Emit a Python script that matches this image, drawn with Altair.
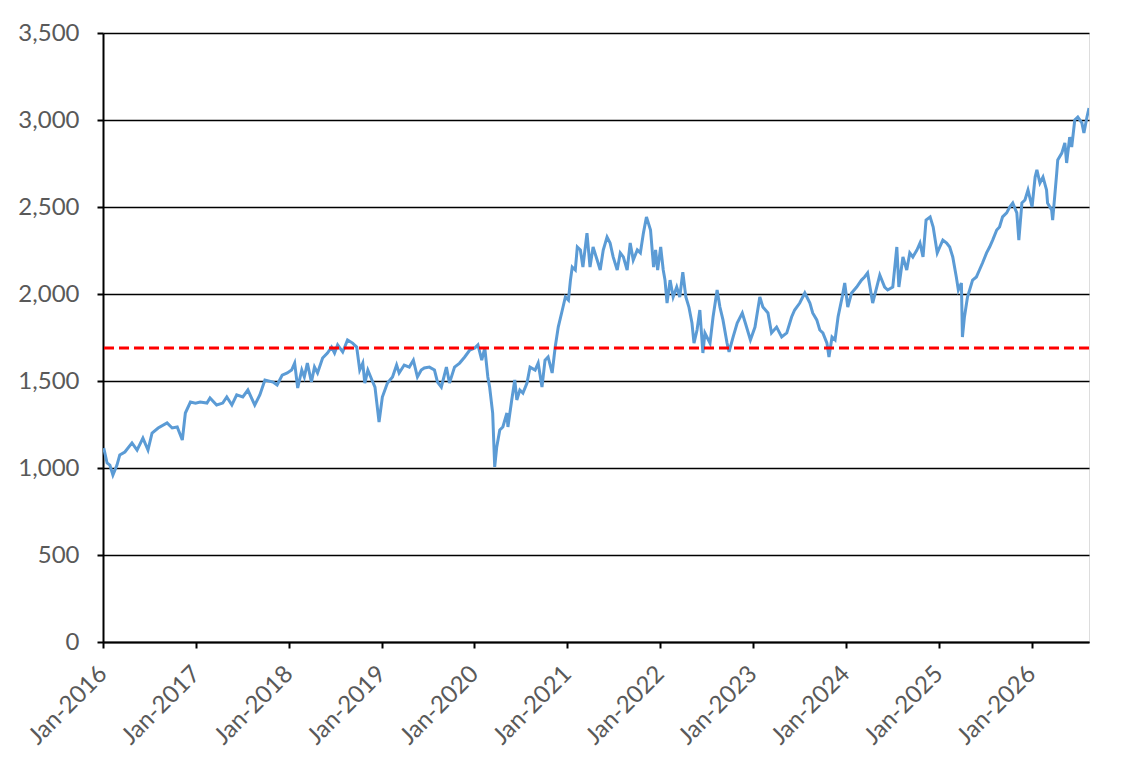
import altair as alt
import pandas as pd

dates = [
    "2016-01-04","2016-01-17","2016-01-28","2016-02-09","2016-02-25","2016-03-07","2016-03-27","2016-04-24",
    "2016-05-14","2016-06-06","2016-06-26","2016-07-12","2016-08-05","2016-09-09","2016-09-29","2016-10-19",
    "2016-11-08","2016-11-20","2016-12-10","2016-12-30",
    "2017-01-17","2017-02-13","2017-02-25","2017-03-23","2017-04-16","2017-05-02","2017-05-22","2017-06-10",
    "2017-07-04","2017-07-24","2017-08-20","2017-09-09","2017-09-29","2017-10-31","2017-11-16","2017-12-06",
    "2017-12-26",
    "2018-01-12","2018-01-24","2018-02-05","2018-02-21","2018-03-03","2018-03-15","2018-03-31","2018-04-12",
    "2018-04-24","2018-05-14","2018-06-02","2018-06-18","2018-06-30","2018-07-12","2018-08-01","2018-08-20",
    "2018-09-09","2018-09-25","2018-10-07","2018-10-19","2018-10-27","2018-11-08","2018-11-24","2018-12-06",
    "2018-12-22",
    "2019-01-04","2019-01-24","2019-02-13","2019-03-01","2019-03-11","2019-03-31","2019-04-20","2019-05-06",
    "2019-05-22","2019-06-06","2019-06-18","2019-07-08","2019-07-28","2019-08-09","2019-08-24","2019-09-13",
    "2019-09-25","2019-10-15","2019-11-04","2019-11-24","2019-12-14",
    "2020-01-03","2020-01-15","2020-01-30","2020-02-11","2020-02-23","2020-03-01","2020-03-13","2020-03-21",
    "2020-03-29","2020-04-10","2020-04-22","2020-05-08","2020-05-12","2020-05-27","2020-06-08","2020-06-16",
    "2020-06-28","2020-07-10","2020-07-26","2020-08-07","2020-08-27","2020-09-08","2020-09-23","2020-10-05",
    "2020-10-17","2020-11-02","2020-11-14","2020-11-26","2020-12-12","2020-12-24",
    "2021-01-05","2021-01-13","2021-01-20","2021-02-01","2021-02-09","2021-02-21","2021-03-03","2021-03-19",
    "2021-03-31","2021-04-12","2021-04-28","2021-05-10","2021-05-22","2021-06-06","2021-06-18","2021-06-30",
    "2021-07-16","2021-07-28","2021-08-09","2021-08-24","2021-09-05","2021-09-17","2021-10-03","2021-10-15",
    "2021-10-27","2021-11-08","2021-11-24","2021-12-06","2021-12-14","2021-12-22",
    "2022-01-03","2022-01-13","2022-01-20","2022-01-28","2022-02-09","2022-02-21","2022-03-07","2022-03-19",
    "2022-03-31","2022-04-12","2022-04-24","2022-05-06","2022-05-14","2022-05-26","2022-06-06","2022-06-18",
    "2022-06-26","2022-07-16","2022-07-28","2022-08-13","2022-08-24","2022-09-05","2022-09-21","2022-09-29",
    "2022-10-15","2022-10-31","2022-11-20","2022-12-02","2022-12-22",
    "2023-01-09","2023-01-28","2023-02-09","2023-03-01","2023-03-15","2023-04-04","2023-04-24","2023-05-14",
    "2023-06-02","2023-06-14","2023-07-04","2023-07-24","2023-08-13","2023-08-24","2023-09-09","2023-09-21",
    "2023-10-03","2023-10-19","2023-10-27","2023-11-08","2023-11-20","2023-12-02","2023-12-18","2023-12-28",
    "2024-01-09","2024-01-24","2024-02-13","2024-03-03","2024-03-15","2024-03-27","2024-04-16","2024-05-14",
    "2024-06-02","2024-06-14","2024-07-04","2024-07-20","2024-07-28","2024-08-13","2024-08-28","2024-09-09",
    "2024-09-21","2024-10-07","2024-10-19","2024-10-31","2024-11-12","2024-11-28","2024-12-10","2024-12-26",
    "2025-01-05","2025-01-17","2025-02-01","2025-02-13","2025-02-25","2025-03-11","2025-03-19","2025-03-31",
    "2025-04-04","2025-04-12","2025-04-24","2025-05-14","2025-05-29","2025-06-10","2025-06-22","2025-07-08",
    "2025-07-20","2025-08-01","2025-08-17","2025-08-28","2025-09-09","2025-09-25","2025-10-07","2025-10-19",
    "2025-11-04","2025-11-12","2025-11-24","2025-12-06","2025-12-18",
    "2026-01-03","2026-01-15","2026-01-22","2026-02-03","2026-02-15","2026-03-01","2026-03-05","2026-03-21",
    "2026-03-25","2026-04-10","2026-04-14","2026-04-30","2026-05-12","2026-05-19","2026-05-31","2026-06-08",
    "2026-06-20","2026-07-02","2026-07-18","2026-07-26","2026-08-07","2026-08-15",
]

values = [
    1115,1029,1017,960,1017,1075,1092,1144,
    1103,1172,1103,1201,1230,1259,1230,1236,
    1161,1316,1379,1373,
    1379,1373,1402,1362,1373,1408,1362,1420,
    1408,1448,1362,1420,1506,1494,1477,1534,
    1546,
    1563,1603,1460,1563,1523,1603,1494,1580,
    1546,1632,1661,1695,1661,1707,1667,1736,
    1718,1695,1563,1603,1488,1563,1506,1465,
    1264,
    1408,1488,1523,1592,1546,1592,1580,1620,
    1523,1563,1575,1580,1563,1494,1465,1580,
    1488,1580,1603,1638,1678,
    1690,1707,1620,1690,1523,1465,1316,1006,
    1121,1218,1236,1316,1236,1391,1506,1391,
    1448,1431,1488,1580,1563,1603,1465,1620,
    1638,1546,1695,1810,1908,1983,
    1965,2080,2155,2138,2270,2253,2155,2350,
    2155,2270,2195,2138,2253,2327,2293,2213,
    2138,2236,2213,2138,2293,2195,2253,2236,
    2350,2443,2368,2155,2253,2138,
    2270,2138,2080,1948,2080,1983,2040,1983,
    2126,1983,1925,1833,1718,1793,1908,1661,
    1776,1718,1868,2023,1925,1851,1718,1667,
    1753,1833,1891,1833,1736,
    1810,1983,1925,1891,1776,1810,1753,1776,
    1868,1908,1948,2006,1948,1891,1851,1793,
    1776,1718,1638,1753,1736,1870,1983,2063,
    1925,2006,2040,2080,2098,2121,1948,2109,
    2040,2023,2040,2270,2040,2213,2138,2236,
    2213,2253,2293,2213,2425,2443,2385,2236,
    2270,2310,2293,2270,2213,2098,2023,2063,
    1753,1868,1983,2080,2098,2138,2178,2236,
    2270,2310,2368,2385,2443,2466,2500,2523,
    2466,2310,2523,2540,2598,
    2500,2672,2713,2638,2672,2598,2523,2483,
    2425,2695,2770,2810,2868,2753,2902,2845,
    3000,3017,2983,2925,3017,3069,
]

ref_level = [1690]
y_ticks = [0, 500, 1000, 1500, 2000, 2500, 3000, 3500]
x_years = list(range(2016, 2027))

df = pd.DataFrame({"date": [d + "T00:00:00" for d in dates], "value": values})
ref_df = pd.DataFrame({"level": ref_level})

label_font = "Lato"
label_color = "#595959"

x_enc = alt.X(
    "date:T",
    scale=alt.Scale(domain=[alt.DateTime(year=2016, month=1, date=1),
                            alt.DateTime(year=2026, month=8, date=15)]),
    axis=alt.Axis(
        values=[alt.DateTime(year=y, month=1, date=1) for y in x_years],
        format="%b-%Y", labelAngle=-45, labelAlign="right", labelBaseline="middle",
        labelFontSize=24, labelFont=label_font, labelColor=label_color,
        labelPadding=22, tickSize=6, tickColor="black", tickWidth=2,
        domainColor="black", domainWidth=2, grid=False, title=None,
        labelOverlap=False,
    ),
)
y_enc = alt.Y(
    "value:Q",
    scale=alt.Scale(domain=[0, 3500], nice=False),
    axis=alt.Axis(
        values=y_ticks, format=",d", labelFontSize=24, labelFont=label_font,
        labelColor=label_color, labelPadding=18, tickSize=6, tickColor="black",
        tickWidth=2, domainColor="black", domainWidth=2, grid=True,
        gridColor="black", gridWidth=1.5, title=None,
    ),
)

line = alt.Chart(df).mark_line(color="#5B9BD5", strokeWidth=3, clip=True).encode(x=x_enc, y=y_enc)
rule = alt.Chart(ref_df).mark_rule(color="#FF0000", strokeDash=[10, 5], strokeWidth=3).encode(y="level:Q")

chart = alt.layer(line, rule).properties(
    width=986, height=609,
    autosize=alt.AutoSizeParams(type="none"),
    padding={"left": 95, "top": 25, "right": 40, "bottom": 120},
).configure_view(stroke="black", strokeWidth=2).configure(background="white")

chart.save("out.html", embed_options={"renderer": "svg", "actions": False})
